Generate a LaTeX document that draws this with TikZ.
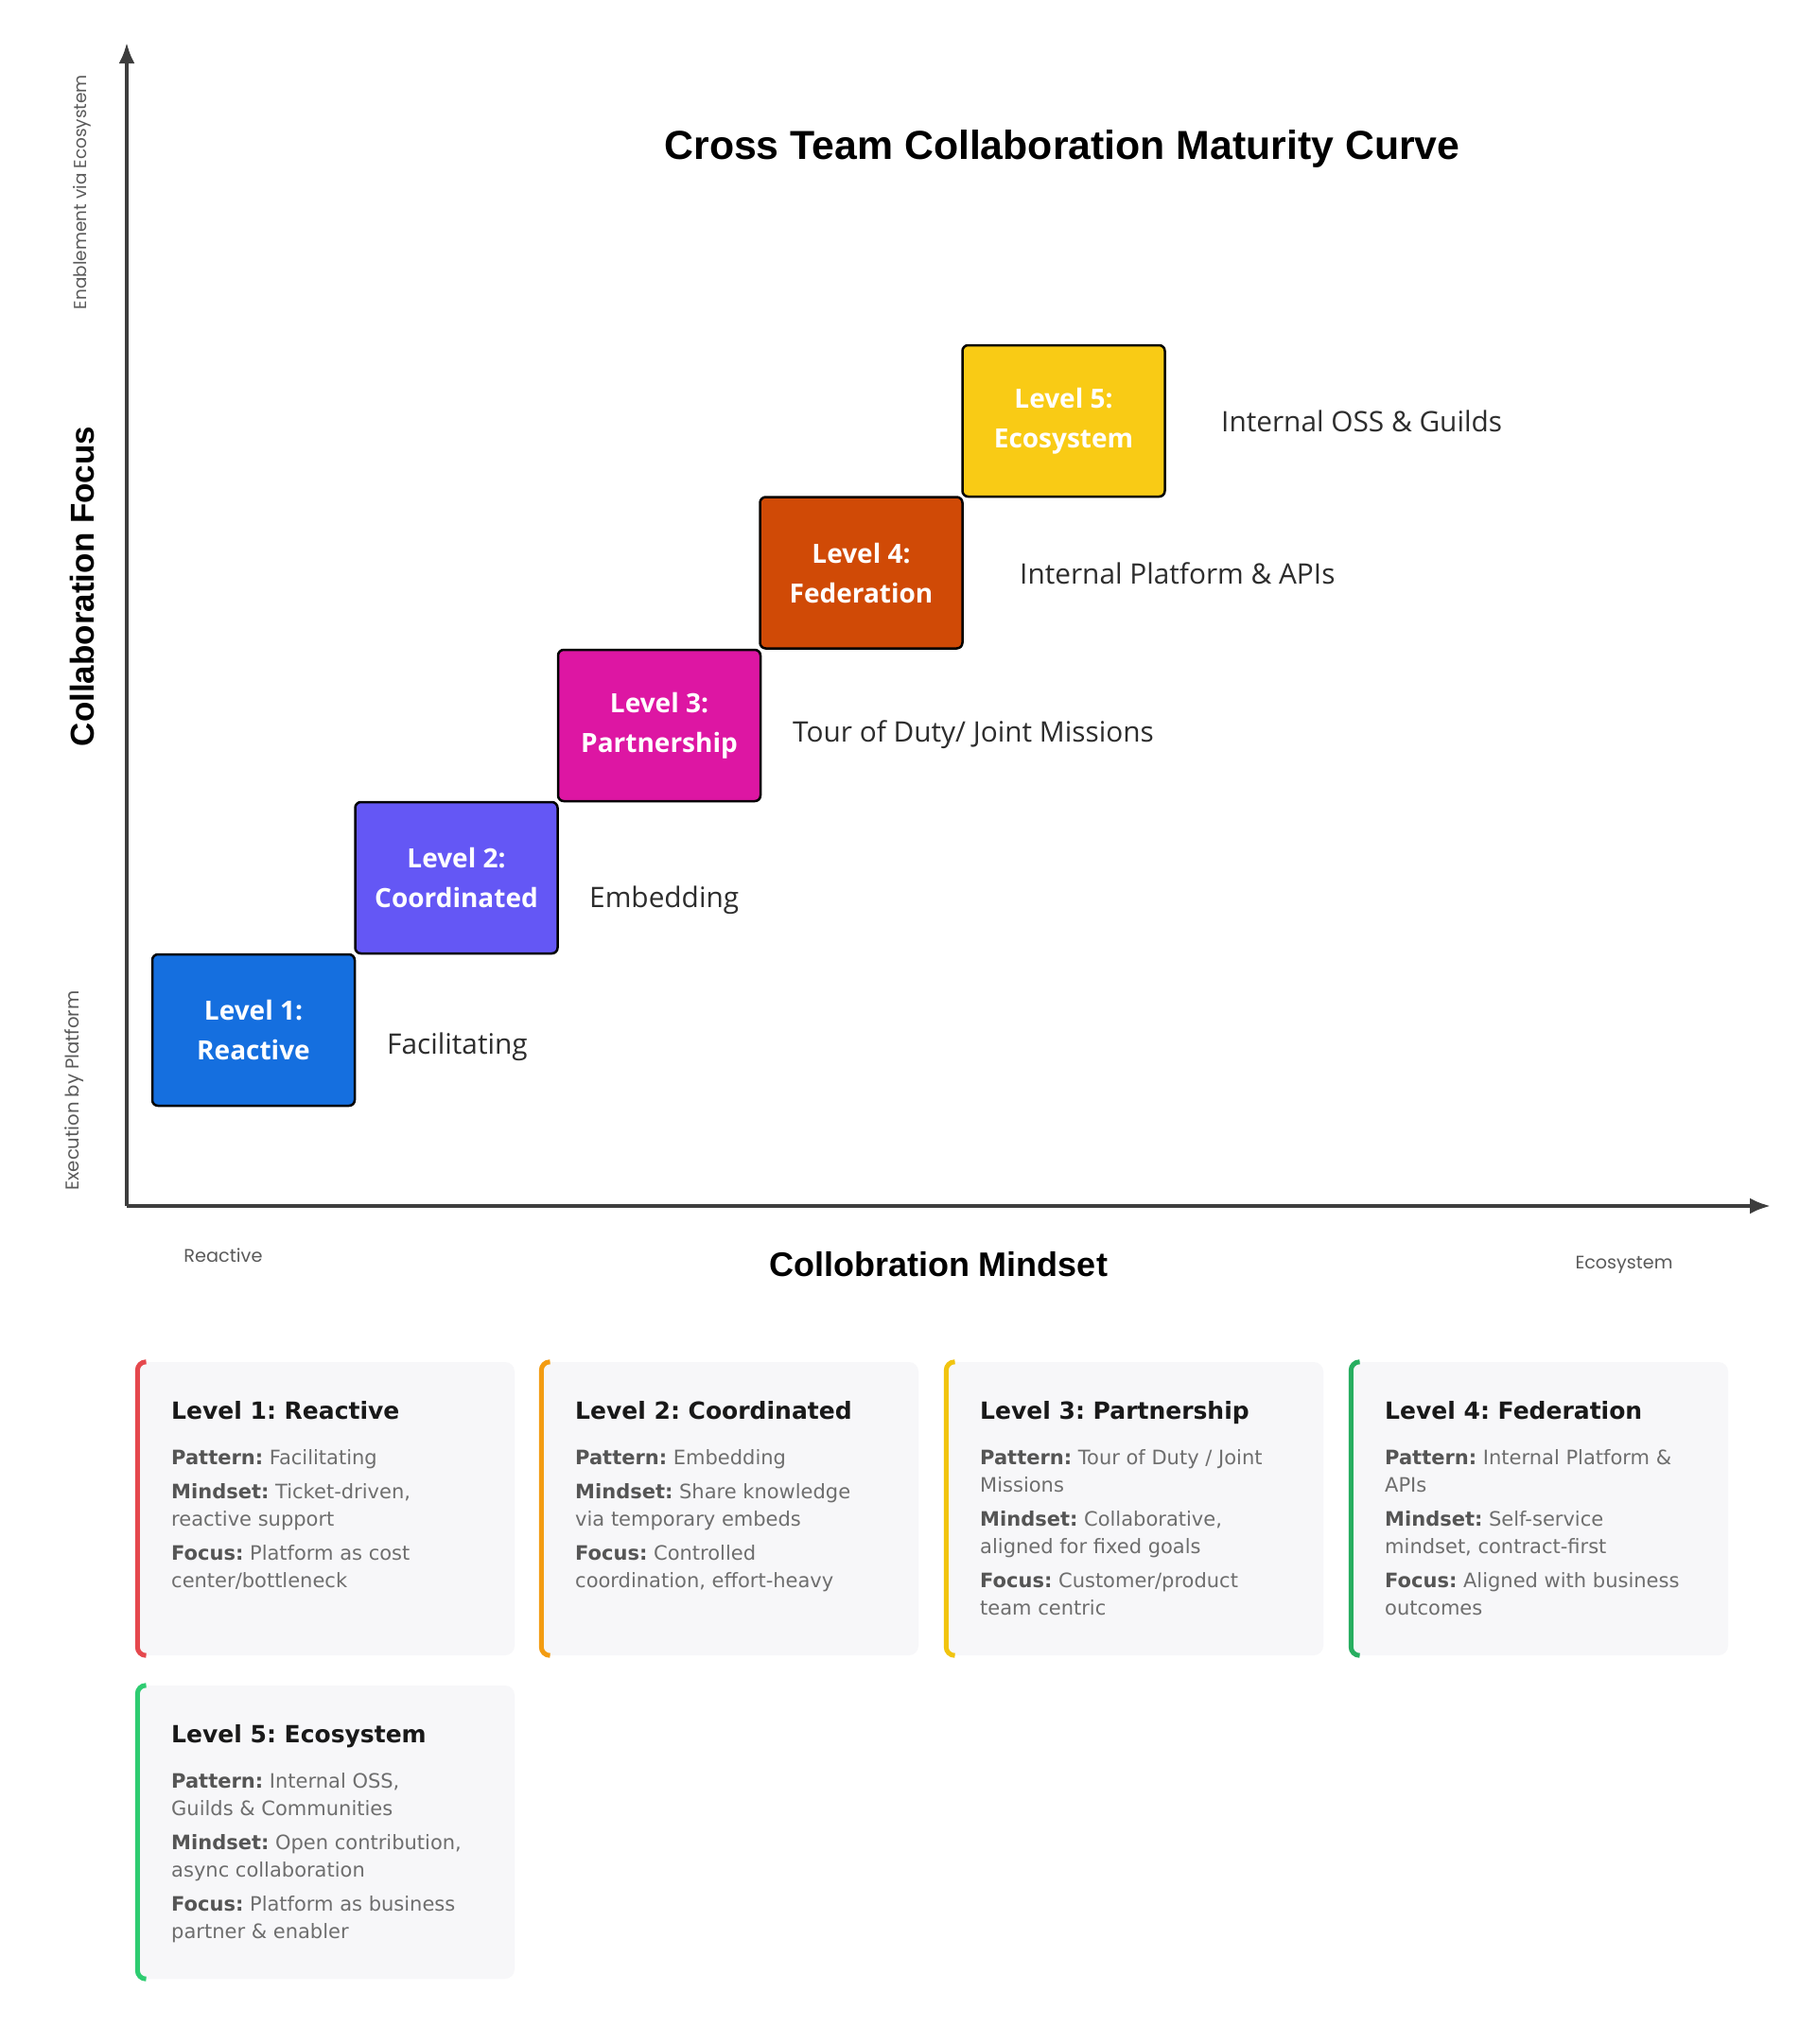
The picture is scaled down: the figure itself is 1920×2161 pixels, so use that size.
\documentclass[tikz,border=0pt]{standalone}
\usepackage{fontspec}
\usepackage{graphicx}
\usetikzlibrary{arrows.meta}
\setmainfont{Open Sans}
\newfontfamily\arialf{Liberation Sans}
\newfontfamily\cardf{DejaVu Sans}
\newfontfamily\handf{Poppins}
\definecolor{axisgray}{HTML}{3D3D3D}
\definecolor{lone}{HTML}{156FDF}
\definecolor{ltwo}{HTML}{6457F5}
\definecolor{lthree}{HTML}{DD16A3}
\definecolor{lfour}{HTML}{D04A06}
\definecolor{lfive}{HTML}{F9CB15}
\definecolor{sidegray}{HTML}{2D2D2D}
\definecolor{handgray}{HTML}{5A5A5A}
\definecolor{cardbg}{HTML}{F7F7F9}
\definecolor{lblgray}{HTML}{555555}
\definecolor{bodygray}{HTML}{6E6E6E}
\definecolor{barred}{HTML}{E5484D}
\definecolor{barorange}{HTML}{F39C12}
\definecolor{baryellow}{HTML}{F1C40F}
\definecolor{bargreen}{HTML}{27AE60}
\definecolor{barlgreen}{HTML}{2ECC71}
\newcommand\lbl[1]{{\bfseries\color{lblgray}#1}}
\frenchspacing
\begin{document}
\begin{tikzpicture}[x=1pt,y=-1pt,
  lvlbox/.style={draw=black, line width=2.5pt, rounded corners=6pt, minimum width=214pt, minimum height=160pt, inner sep=0pt, align=center, text=white, font=\bfseries\fontsize{28}{42}\selectfont},
  sidelbl/.style={anchor=west, inner sep=0pt, text=sidegray, font=\fontsize{29.8}{34}\selectfont},
  handlbl/.style={inner sep=0pt, text=handgray, font=\handf},
  boldlbl/.style={inner sep=0pt, text=black, font=\arialf\bfseries},
  axisline/.style={draw=axisgray, line width=4pt},
  cardbox/.style={fill=cardbg, rounded corners=10pt, minimum width=401pt, minimum height=310pt, inner sep=0pt},
  cardbar/.style={line width=5pt, rounded corners=9pt},
  cardtitle/.style={anchor=base west, inner sep=0pt, text=black!90, font=\cardf\bfseries\fontsize{25}{30}\selectfont},
  cardbody/.style={anchor=base west, inner sep=0pt, text=bodygray, font=\cardf\fontsize{21}{29}\selectfont}
]
\useasboundingbox[fill=white] (0,0) rectangle (1920,2161);

% axes
\coordinate (orig) at (134,1275);
\coordinate (ytip) at (134,45);
\coordinate (xtip) at (1872,1275);
\draw[axisline, -{Latex[length=22pt,width=17pt]}] (orig) -- (ytip);
\draw[axisline, -{Latex[length=22pt,width=17pt]}] (orig) -- (xtip);

% title and axis labels
\node[boldlbl, font=\arialf\bfseries\fontsize{42.8}{48}\selectfont] (title) at (1123,157) {Cross Team Collaboration Maturity Curve};
\node[boldlbl, rotate=90, font=\arialf\bfseries\fontsize{35}{40}\selectfont] (ylabel) at (87,620) {Collaboration Focus};
\node[boldlbl, font=\arialf\bfseries\fontsize{36}{40}\selectfont] (xlabel) at (992,1337) {Collobration Mindset};
\node[handlbl, rotate=90] (yhigh) at (87,203) {\resizebox{248pt}{!}{Enablement via Ecosystem}};
\node[handlbl, rotate=90] (ylow) at (79,1153) {\resizebox{211pt}{!}{Execution by Platform}};
\node[handlbl] (xlow) at (236,1327) {\resizebox{83pt}{!}{Reactive}};
\node[handlbl] (xhigh) at (1717,1337) {\resizebox{103pt}{!}{Ecosystem}};

% level boxes
\node[lvlbox, fill=lone] (L1) at (268,1089) {Level 1:\\Reactive};
\node[lvlbox, fill=ltwo] (L2) at (482.5,928) {Level 2:\\Coordinated};
\node[lvlbox, fill=lthree] (L3) at (697,767) {Level 3:\\Partnership};
\node[lvlbox, fill=lfour] (L4) at (910.5,605.5) {Level 4:\\Federation};
\node[lvlbox, fill=lfive] (L5) at (1124.5,445) {Level 5:\\Ecosystem};

% side labels
\node[sidelbl] (S1) at (409,1107) {Facilitating};
\node[sidelbl] (S2) at (623,952) {Embedding};
\node[sidelbl] (S3) at (838,777) {Tour of Duty/ Joint Missions};
\node[sidelbl] (S4) at (1078,606) {Internal Platform \& APIs};
\node[sidelbl] (S5) at (1291,445) {Internal OSS \& Guilds};

% cards
\node[cardbox] (C1) at (343.5,1595) {};
\node[cardbox] (C2) at (770.5,1595) {};
\node[cardbox] (C3) at (1198.5,1595) {};
\node[cardbox] (C4) at (1626.5,1595) {};
\node[cardbox] (C5) at (343.5,1937) {};

\draw[cardbar, barred] ([xshift=11pt]C1.north west) -- ([xshift=2.5pt]C1.north west) -- ([xshift=2.5pt]C1.south west) -- ([xshift=11pt]C1.south west);
\draw[cardbar, barorange] ([xshift=11pt]C2.north west) -- ([xshift=2.5pt]C2.north west) -- ([xshift=2.5pt]C2.south west) -- ([xshift=11pt]C2.south west);
\draw[cardbar, baryellow] ([xshift=11pt]C3.north west) -- ([xshift=2.5pt]C3.north west) -- ([xshift=2.5pt]C3.south west) -- ([xshift=11pt]C3.south west);
\draw[cardbar, bargreen] ([xshift=11pt]C4.north west) -- ([xshift=2.5pt]C4.north west) -- ([xshift=2.5pt]C4.south west) -- ([xshift=11pt]C4.south west);
\draw[cardbar, barlgreen] ([xshift=11pt]C5.north west) -- ([xshift=2.5pt]C5.north west) -- ([xshift=2.5pt]C5.south west) -- ([xshift=11pt]C5.south west);

\node[cardtitle] (C1t) at (181,1500) {Level 1: Reactive};
\node[cardbody] (C1b) at (181,1548) {\parbox[t]{340pt}{\raggedright\leavevmode
\lbl{Pattern:} Facilitating\\[7pt]
\lbl{Mindset:} Ticket-driven,\\ reactive support\\[7pt]
\lbl{Focus:} Platform as cost\\ center/bottleneck}};

\node[cardtitle] (C2t) at (608,1500) {Level 2: Coordinated};
\node[cardbody] (C2b) at (608,1548) {\parbox[t]{340pt}{\raggedright\leavevmode
\lbl{Pattern:} Embedding\\[7pt]
\lbl{Mindset:} Share knowledge\\ via temporary embeds\\[7pt]
\lbl{Focus:} Controlled\\ coordination, effort-heavy}};

\node[cardtitle] (C3t) at (1036,1500) {Level 3: Partnership};
\node[cardbody] (C3b) at (1036,1548) {\parbox[t]{340pt}{\raggedright\leavevmode
\lbl{Pattern:} Tour of Duty / Joint\\ Missions\\[7pt]
\lbl{Mindset:} Collaborative,\\ aligned for fixed goals\\[7pt]
\lbl{Focus:} Customer/product\\ team centric}};

\node[cardtitle] (C4t) at (1464,1500) {Level 4: Federation};
\node[cardbody] (C4b) at (1464,1548) {\parbox[t]{340pt}{\raggedright\leavevmode
\lbl{Pattern:} Internal Platform \&\\ APIs\\[7pt]
\lbl{Mindset:} Self-service\\ mindset, contract-first\\[7pt]
\lbl{Focus:} Aligned with business\\ outcomes}};

\node[cardtitle] (C5t) at (181,1842) {Level 5: Ecosystem};
\node[cardbody] (C5b) at (181,1890) {\parbox[t]{340pt}{\raggedright\leavevmode
\lbl{Pattern:} Internal OSS,\\ Guilds \& Communities\\[7pt]
\lbl{Mindset:} Open contribution,\\ async collaboration\\[7pt]
\lbl{Focus:} Platform as business\\ partner \& enabler}};
\end{tikzpicture}
\end{document}
